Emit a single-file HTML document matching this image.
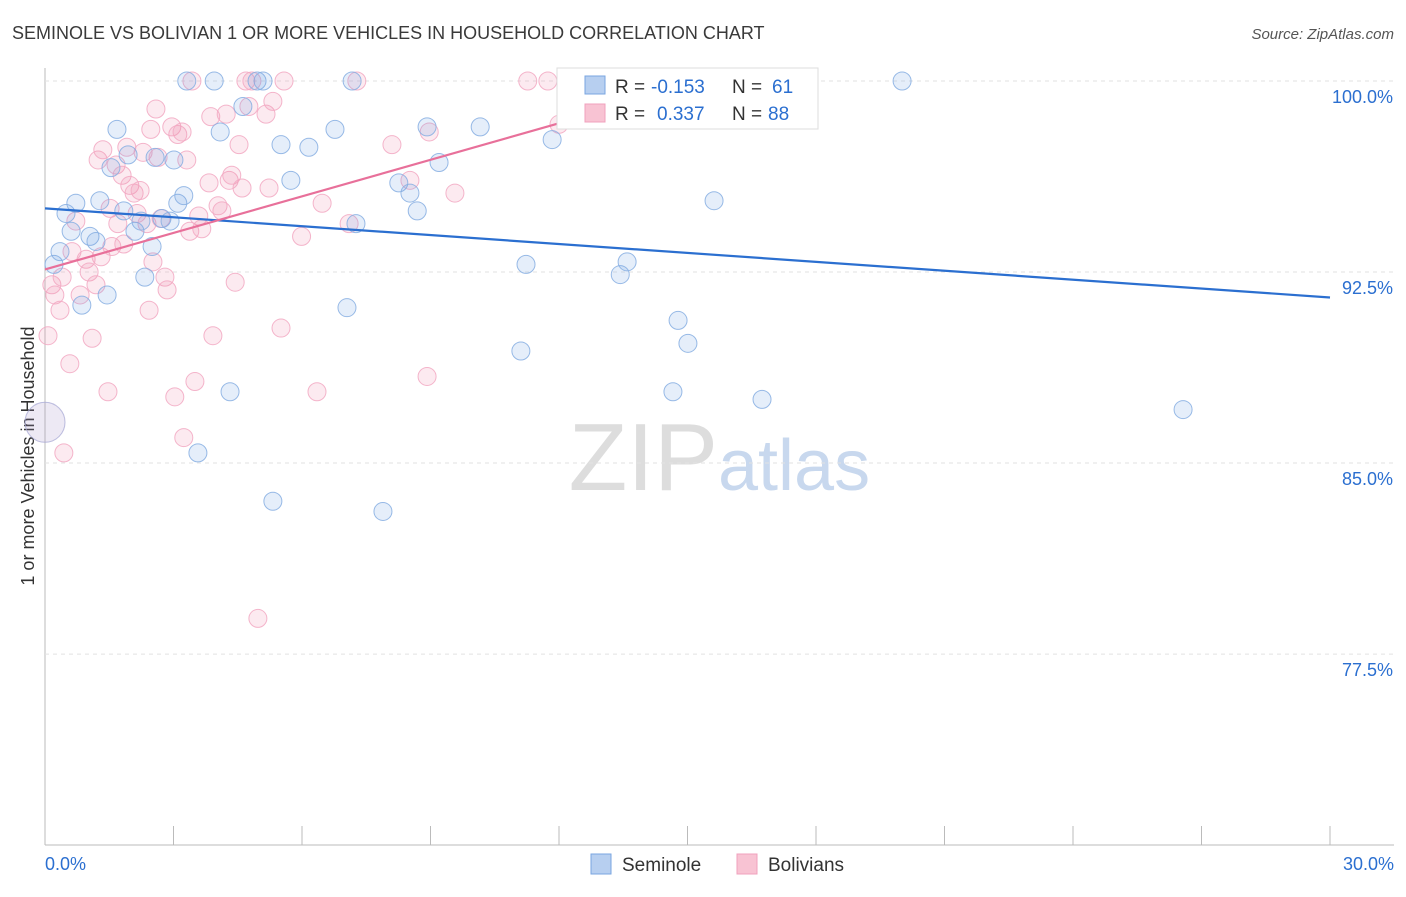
<!DOCTYPE html>
<html><head><meta charset="utf-8"><style>
body{margin:0;background:#fff;font-family:"Liberation Sans",sans-serif}
svg text{font-family:"Liberation Sans",sans-serif}
</style></head><body>
<svg id="c" width="1406" height="892">
<text x="12" y="39" font-size="18" fill="#3a3a3a">SEMINOLE VS BOLIVIAN 1 OR MORE VEHICLES IN HOUSEHOLD CORRELATION CHART</text>
<text x="1394" y="39" font-size="15" fill="#555" text-anchor="end" font-style="italic">Source: ZipAtlas.com</text>
<text x="718" y="490" font-size="96" fill="#ddd" text-anchor="end" font-family="Liberation Serif">ZIP</text>
<text x="718" y="490" font-size="72" fill="#c8d8ee">atlas</text>
<text transform="translate(34,456) rotate(-90)" font-size="18" fill="#333" text-anchor="middle">1 or more Vehicles in Household</text>
<g id="grid"></g><g id="pts"></g><g id="trend"></g>
<g>
<rect x="557" y="68" width="261" height="61" fill="#fff" stroke="#ddd"/>
<rect x="585" y="76" width="20" height="18" fill="#b7cff0" stroke="#7aa6e0"/>
<rect x="585" y="104" width="20" height="18" fill="#f8c3d3" stroke="#f0a0bc"/>
<text x="615" y="93" font-size="19" fill="#333">R =</text>
<text x="651" y="93" font-size="19" fill="#2b6fd0">-0.153</text>
<text x="732" y="93" font-size="19" fill="#333">N =</text>
<text x="772" y="93" font-size="19" fill="#2b6fd0">61</text>
<text x="615" y="120" font-size="19" fill="#333">R =</text>
<text x="657" y="120" font-size="19" fill="#2b6fd0">0.337</text>
<text x="732" y="120" font-size="19" fill="#333">N =</text>
<text x="768" y="120" font-size="19" fill="#2b6fd0">88</text>
</g>
<g>
<rect x="591" y="854" width="20" height="20" fill="#b7cff0" stroke="#7aa6e0"/>
<text x="622" y="871" font-size="19" fill="#333">Seminole</text>
<rect x="737" y="854" width="20" height="20" fill="#f8c3d3" stroke="#f0a0bc"/>
<text x="768" y="871" font-size="19" fill="#333">Bolivians</text>
</g>
</svg>
<script>
const xTicks=[0,3,6,9,12,15,18,21,24,27,30];
const yTicks=[100,92.5,85,77.5];
const yTickLabels=["100.0%","92.5%","85.0%","77.5%"];
const blueX=[0,0.21,0.35,0.49,0.61,0.72,0.86,1.05,1.19,1.28,1.45,1.54,1.68,1.84,1.94,2.1,2.24,2.33,2.5,2.57,2.73,2.92,3.01,3.1,3.24,3.31,3.57,3.95,4.09,4.32,4.62,4.95,5.09,5.32,5.51,5.74,6.16,6.77,7.05,7.17,7.26,7.89,8.26,8.52,8.69,8.92,9.2,10.16,11.11,11.23,11.84,12.87,13.43,13.59,14.66,14.78,15.01,15.62,16.74,20.01,26.57];
const blueY=[86.6,92.8,93.3,94.8,94.1,95.2,91.2,93.9,93.7,95.3,91.6,96.6,98.1,94.9,97.1,94.1,94.5,92.3,93.5,97.0,94.6,94.5,96.9,95.2,95.5,100,85.4,100,98.0,87.8,99.0,100,100,83.5,97.5,96.1,97.4,98.1,91.1,100,94.4,83.1,96.0,95.6,94.9,98.2,96.8,98.2,89.4,92.8,97.7,99.9,92.4,92.9,87.8,90.6,89.7,95.3,87.5,100,87.1];
const pinkX=[0,0.07,0.16,0.23,0.35,0.4,0.44,0.58,0.63,0.72,0.82,0.96,1.03,1.1,1.19,1.24,1.31,1.35,1.47,1.52,1.56,1.66,1.7,1.8,1.84,1.91,1.98,2.08,2.15,2.22,2.29,2.38,2.43,2.47,2.52,2.59,2.64,2.71,2.8,2.85,2.96,3.03,3.1,3.2,3.24,3.31,3.38,3.43,3.5,3.59,3.66,3.83,3.87,3.92,4.04,4.13,4.23,4.3,4.36,4.44,4.53,4.6,4.69,4.76,4.83,4.97,5.16,5.23,5.32,5.51,5.58,5.99,6.35,6.47,7.1,7.28,8.1,8.52,8.92,8.97,9.57,11.27,11.74,12.0];
const pinkY=[86.6,90.0,92.0,91.6,91.0,92.3,85.4,88.9,93.3,94.5,91.6,93.0,92.5,89.9,92.0,96.9,93.1,97.3,87.8,95.0,93.5,96.7,94.4,96.3,93.6,97.4,95.9,95.6,94.8,95.7,97.2,94.4,91.0,98.1,92.9,98.9,97.0,94.6,92.3,91.8,98.2,87.6,97.9,98.0,86.0,96.9,94.1,100,88.2,94.7,94.2,96.0,98.6,90.0,95.1,94.9,98.7,96.1,96.3,92.1,97.5,95.8,100,99.0,100,78.9,98.7,95.8,99.2,90.3,100,93.9,87.8,95.2,94.4,100,97.5,96.1,88.4,98.0,95.6,100,100,98.3];
const X=v=>45+v/30*1285, Y=v=>81+(100-v)*25.47;
const NS='http://www.w3.org/2000/svg';
function mk(t,a,p){const e=document.createElementNS(NS,t);for(const k in a)e.setAttribute(k,a[k]);p.appendChild(e);return e;}
const g=document.getElementById('grid');
const ax=mk('line',{x1:45,y1:68,x2:45,y2:845,stroke:'#bbb'},g);


const bx=mk('line',{x1:45,y1:845,x2:1394,y2:845,stroke:'#bbb'},g);


yTicks.forEach((v,i)=>{
 const l=mk('line',{x1:45,y1:Y(v),x2:1394,y2:Y(v),stroke:'#e2e2e2','stroke-dasharray':'4,4'},g);
 
 
 const t=mk('text',{x:1393,y:Y(v)+22,'font-size':18,fill:'#2b6fd0','text-anchor':'end'},g);t.textContent=yTickLabels[i];
 
 
});
xTicks.forEach(v=>{
 const l=mk('line',{x1:X(v),y1:826,x2:X(v),y2:845,stroke:'#bbb'},g);
 
 
});
[[0,'0.0%','start',45],[30,'30.0%','end',1394]].forEach(a=>{
 const t=mk('text',{x:a[3],y:870,'font-size':18,fill:'#2b6fd0','text-anchor':a[2]},g);t.textContent=a[1];
 
 
});
const p=document.getElementById('pts');
function draw(xs,ys,fill,stroke,name){xs.forEach((x,i)=>{
 const c=mk('circle',{cx:X(x),cy:Y(ys[i]),r:(i==0?20:9),fill:fill,stroke:stroke,'stroke-width':1,'stroke-opacity':(i==0?0.5:0.85),'fill-opacity':(i==0?0.6:1)},p);
 
 
});}
draw(pinkX,pinkY,'rgba(240,140,170,0.18)','#f2a8c2','bolivian-point');
draw(blueX,blueY,'rgba(110,160,230,0.18)','#86aee2','seminole-point');
const tr=document.getElementById('trend');
const b=mk('line',{x1:X(0),y1:Y(95.0),x2:X(30),y2:Y(91.5),stroke:'#2b6fd0','stroke-width':2.2},tr);


const pl=mk('line',{x1:X(0),y1:Y(92.6),x2:X(15.05),y2:Y(99.8),stroke:'#e8709a','stroke-width':2.2},tr);


</script>
</body></html>
